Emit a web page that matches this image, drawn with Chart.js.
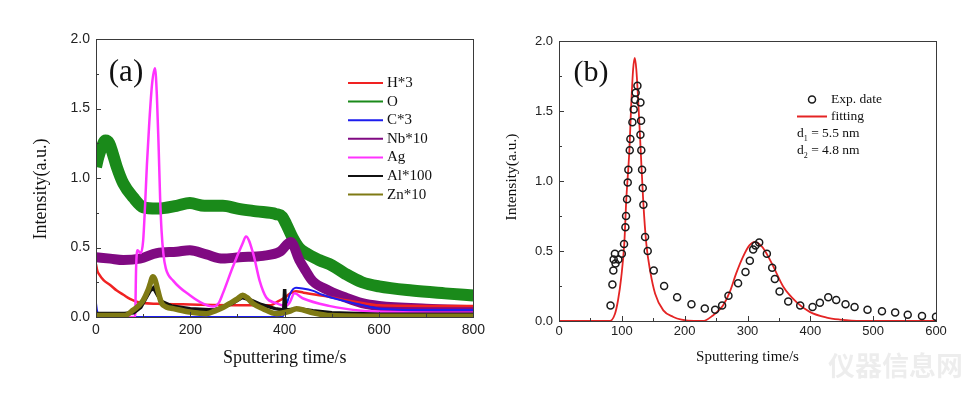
<!DOCTYPE html>
<html>
<head>
<meta charset="utf-8">
<script src="https://cdn.jsdelivr.net/npm/chart.js@4.4.1/dist/chart.umd.min.js"></script>
<style>
  body { margin: 0; background: #fff; }
  #wrap { position: relative; width: 979px; height: 407px; }
  canvas { position: absolute; top: 0; }
  #chartA { left: 0; }
  #chartB { left: 490px; }
</style>
</head>
<body>
<div id="wrap">
  <canvas id="chartA" width="490" height="407"></canvas>
  <canvas id="chartB" width="489" height="407"></canvas>
</div>
<script>
// ---- panel (a): depth profiles ----
const timeH = [0, 3, 6, 16, 30, 44, 58, 72, 86, 100, 130, 200, 300, 370, 385, 400, 412, 424, 440, 494, 530, 564, 600, 700, 800];
const intH  = [0.38, 0.33, 0.31, 0.265, 0.23, 0.19, 0.16, 0.13, 0.11, 0.10, 0.095, 0.09, 0.085, 0.085, 0.11, 0.14, 0.17, 0.185, 0.175, 0.145, 0.12, 0.10, 0.084, 0.08, 0.08];

const timeO = [0, 5, 12, 20, 28, 36, 44, 58, 79, 100, 129, 171, 199, 230, 269, 300, 340, 382, 395, 403, 417, 430, 445, 473, 501, 529, 564, 600, 670, 740, 800];
const intO  = [1.08, 1.15, 1.22, 1.27, 1.25, 1.17, 1.08, 0.96, 0.86, 0.79, 0.78, 0.80, 0.82, 0.80, 0.80, 0.78, 0.76, 0.74, 0.72, 0.67, 0.57, 0.50, 0.46, 0.41, 0.37, 0.31, 0.25, 0.22, 0.19, 0.17, 0.155];

const timeC = [0, 2, 5, 10, 395, 403, 412, 424, 438, 459, 480, 520, 560, 600, 700, 800];
const intC  = [0.1, 0.05, 0.01, 0, 0, 0.08, 0.17, 0.21, 0.205, 0.19, 0.16, 0.12, 0.09, 0.06, 0.05, 0.05];

const timeNb = [0, 30, 58, 93, 129, 171, 199, 234, 269, 304, 354, 390, 413, 431, 445, 459, 494, 529, 564, 600, 700, 800];
const intNb  = [0.43, 0.42, 0.41, 0.42, 0.46, 0.47, 0.48, 0.45, 0.42, 0.43, 0.44, 0.47, 0.54, 0.41, 0.33, 0.26, 0.19, 0.14, 0.10, 0.08, 0.06, 0.05];

const timeAg = [0, 83, 85, 88, 95, 100, 104, 108, 113, 119, 125, 129, 133, 136, 139, 143, 148, 164, 199, 227, 248, 260, 269, 290, 311, 318, 333, 347, 361, 382, 403, 410, 421, 438, 494, 564, 650, 800];
const intAg  = [0, 0, 0.35, 0.48, 0.46, 0.55, 0.8, 1.1, 1.4, 1.68, 1.79, 1.6, 1.2, 0.85, 0.62, 0.45, 0.35, 0.26, 0.156, 0.096, 0.075, 0.1, 0.17, 0.36, 0.53, 0.58, 0.46, 0.26, 0.14, 0.1, 0.08, 0.1, 0.17, 0.135, 0.08, 0.045, 0.035, 0.03];

const timeAl = [0, 60, 80, 95, 105, 115, 122, 130, 140, 160, 200, 250, 270, 290, 310, 330, 350, 380, 398, 400, 402, 430, 460, 500, 600, 800];
const intAl  = [0.025, 0.025, 0.03, 0.07, 0.13, 0.19, 0.21, 0.16, 0.11, 0.08, 0.06, 0.05, 0.07, 0.1, 0.14, 0.12, 0.09, 0.06, 0.05, 0.2, 0.05, 0.06, 0.045, 0.03, 0.02, 0.02];

const timeZn = [0, 60, 79, 90, 100, 110, 115, 120, 125, 129, 135, 139, 150, 164, 199, 234, 255, 270, 283, 300, 311, 320, 333, 354, 382, 410, 425, 440, 460, 500, 600, 800];
const intZn  = [0.01, 0.01, 0.05, 0.08, 0.12, 0.19, 0.24, 0.29, 0.27, 0.22, 0.14, 0.1, 0.07, 0.06, 0.036, 0.024, 0.048, 0.07, 0.096, 0.13, 0.156, 0.14, 0.096, 0.06, 0.024, 0.04, 0.06, 0.05, 0.03, 0.01, 0.005, 0.005];

// ---- panel (b): Ag profile and fit ----
const expTime = [82, 85, 86.5, 87, 89, 90, 94.5, 100, 103.5, 105.7, 106.7, 108.3, 109.4, 110.4, 112.6, 113.6, 116.8, 118.9, 121, 122, 124.8, 129.6, 129.6, 130.6, 131, 132.2, 133.3, 134.3, 137, 141.2, 150.8, 167.3, 188, 210.8, 232, 248.5, 259.6, 269.7, 285, 296.8, 303.7, 309, 312.7, 318.6, 330.8, 339.3, 343.5, 351, 364.8, 383.9, 403.5, 415.2, 428.5, 441.2, 456, 470.4, 491, 514, 535, 555, 577.7, 600];
const expInt  = [0.11, 0.26, 0.36, 0.44, 0.48, 0.41, 0.44, 0.48, 0.55, 0.67, 0.75, 0.87, 0.99, 1.08, 1.22, 1.30, 1.42, 1.51, 1.58, 1.63, 1.68, 1.56, 1.33, 1.43, 1.22, 1.08, 0.95, 0.83, 0.60, 0.50, 0.36, 0.25, 0.17, 0.12, 0.09, 0.08, 0.11, 0.18, 0.27, 0.35, 0.43, 0.51, 0.54, 0.56, 0.48, 0.38, 0.30, 0.21, 0.14, 0.11, 0.10, 0.13, 0.17, 0.15, 0.12, 0.10, 0.08, 0.07, 0.06, 0.045, 0.036, 0.03];

const fitTime = [0, 81, 89, 94, 99, 104, 107, 112, 115, 118, 120.6, 123, 126, 130, 134, 139, 145, 153, 166, 182, 195, 215, 229, 245, 255, 261, 272, 282, 293, 303, 312, 320, 328, 341, 357, 378, 399, 426, 447, 480, 600];
const fitInt  = [0, 0, 0.05, 0.15, 0.31, 0.56, 0.86, 1.22, 1.55, 1.8, 1.88, 1.8, 1.58, 1.22, 0.86, 0.55, 0.36, 0.195, 0.076, 0.029, 0.01, 0, 0, 0.04, 0.08, 0.11, 0.21, 0.34, 0.46, 0.54, 0.565, 0.545, 0.5, 0.39, 0.245, 0.135, 0.065, 0.024, 0.01, 0, 0];

const yTicksA = [0, 0.5, 1.0, 1.5, 2.0];

function pairs(xs, ys) {
  return xs.map((t, i) => ({ x: t, y: ys[i] }));
}

Chart.defaults.font.family = '"Liberation Sans", Arial, sans-serif';
Chart.defaults.color = '#222';

function profile(label, xs, ys, color, width, order, smooth) {
  return {
    label: label,
    data: pairs(xs, ys),
    borderColor: color,
    backgroundColor: color,
    borderWidth: width,
    pointRadius: 0,
    order: order,
    clip: 0,
    cubicInterpolationMode: smooth ? 'monotone' : 'default',
    tension: 0
  };
}

// frame, inward ticks, panel letter, legend and y title
const decor = {
  id: 'decor',
  afterDatasetsDraw(chart, args, o) {
    const { ctx, chartArea: a, scales: { x, y } } = chart;
    ctx.save();
    ctx.strokeStyle = '#3a3a3a';
    ctx.lineWidth = 1;
    ctx.strokeRect(Math.round(a.left) + 0.5, Math.round(a.top) + 0.5,
                   Math.round(a.right - a.left), Math.round(a.bottom - a.top));
    ctx.beginPath();
    let n = 0;
    for (let v = x.min; v <= x.max + 1e-6; v += o.xMinor, n++) {
      const px = Math.round(x.getPixelForValue(v)) + 0.5;
      ctx.moveTo(px, a.bottom);
      ctx.lineTo(px, a.bottom - (n % 2 === 0 ? 5 : 3));
    }
    n = 0;
    for (let v = y.min; v <= y.max + 1e-6; v += 0.25, n++) {
      const py = Math.round(y.getPixelForValue(v)) + 0.5;
      ctx.moveTo(a.left, py);
      ctx.lineTo(a.left + (n % 2 === 0 ? 5 : 3), py);
    }
    ctx.stroke();
    ctx.restore();
  },
  afterDraw(chart, args, o) {
    const ctx = chart.ctx;
    ctx.save();
    ctx.fillStyle = '#111';
    ctx.textAlign = 'center';
    ctx.textBaseline = 'middle';
    ctx.font = o.letterSize + 'px "Liberation Serif", "Times New Roman", serif';
    ctx.fillText(o.letter, o.letterX, o.letterY);

    // y axis title
    ctx.save();
    ctx.translate(o.yTitleX, o.yTitleY);
    ctx.rotate(-Math.PI / 2);
    ctx.font = o.yTitleSize + 'px "Liberation Serif", "Times New Roman", serif';
    ctx.fillText('Intensity(a.u.)', 0, 0);
    ctx.restore();

    // legend
    ctx.font = o.legendSize + 'px "Liberation Serif", "Times New Roman", serif';
    ctx.textAlign = 'left';
    o.legend.forEach((e, i) => {
      const yy = o.legendY + i * o.legendStep;
      if (e.kind === 'line') {
        ctx.strokeStyle = e.color;
        ctx.lineWidth = 2;
        ctx.beginPath();
        ctx.moveTo(o.legendX, yy);
        ctx.lineTo(o.legendX + o.legendLen, yy);
        ctx.stroke();
      } else if (e.kind === 'circle') {
        ctx.strokeStyle = e.color;
        ctx.lineWidth = 1.5;
        ctx.beginPath();
        ctx.arc(o.legendX + o.legendLen / 2, yy, 3.5, 0, Math.PI * 2);
        ctx.stroke();
      }
      if (e.kind === 'sub') {
        let xx = o.legendX;
        ctx.fillText(e.base, xx, yy);
        xx += ctx.measureText(e.base).width;
        const big = ctx.font;
        ctx.font = Math.round(o.legendSize * 0.6) + 'px "Liberation Serif", serif';
        ctx.fillText(e.sub, xx, yy + 5);
        xx += ctx.measureText(e.sub).width;
        ctx.font = big;
        ctx.fillText(e.rest, xx, yy);
      } else {
        ctx.fillText(e.text, o.legendX + o.legendLen + 4, yy);
      }
    });

    if (o.watermark) {
      ctx.font = 'bold 27px "Noto Sans CJK SC", sans-serif';
      ctx.fillStyle = 'rgba(0,0,0,0.07)';
      ctx.fillText(o.watermark, 338, 366);
    }
    ctx.restore();
  }
};

const serif = '"Liberation Serif", "Times New Roman", serif';

// ---------- chart (a) ----------
new Chart(document.getElementById('chartA').getContext('2d'), {
  type: 'line',
  data: {
    datasets: [
      profile('H*3', timeH, intH, '#f02222', 2.5, 4, true),
      profile('O', timeO, intO, '#1a8a1a', 12, 6, true),
      profile('C*3', timeC, intC, '#1c1cee', 2, 3, true),
      profile('Nb*10', timeNb, intNb, '#800a82', 10, 5, true),
      profile('Ag', timeAg, intAg, '#ff33ff', 2.5, 2, true),
      profile('Al*100', timeAl, intAl, '#111111', 3.5, 1, false),
      profile('Zn*10', timeZn, intZn, '#7f7a14', 5.5, 0, true)
    ]
  },
  options: {
    responsive: false,
    animation: false,
    layout: { padding: { left: 0, right: 15, top: 39, bottom: 0 } },
    plugins: {
      legend: { display: false },
      tooltip: { enabled: false },
      decor: {
        letter: '(a)', letterX: 126, letterY: 73, letterSize: 31,
        yTitleX: 41, yTitleY: 189, yTitleSize: 18,
        legendX: 348, legendY: 83, legendStep: 18.6, legendLen: 35, legendSize: 15,
        xMinor: 100,
        legend: [
          { kind: 'line', color: '#f02222', text: 'H*3' },
          { kind: 'line', color: '#1a8a1a', text: 'O' },
          { kind: 'line', color: '#1c1cee', text: 'C*3' },
          { kind: 'line', color: '#800a82', text: 'Nb*10' },
          { kind: 'line', color: '#ff33ff', text: 'Ag' },
          { kind: 'line', color: '#111111', text: 'Al*100' },
          { kind: 'line', color: '#7f7a14', text: 'Zn*10' }
        ]
      }
    },
    scales: {
      x: {
        type: 'linear', min: 0, max: 800,
        afterFit: s => { s.height = 90; },
        grid: { display: false, drawTicks: false },
        border: { display: false },
        ticks: { stepSize: 200, padding: 5, font: { size: 14 }, maxRotation: 0 },
        title: { display: true, text: 'Sputtering time/s', font: { family: serif, size: 18 }, color: '#111', padding: { top: 0, bottom: 38 } }
      },
      y: {
        type: 'linear', min: 0, max: 2,
        afterFit: s => { s.width = 96; },
        afterBuildTicks: s => { s.ticks = yTicksA.map(v => ({ value: v })); },
        grid: { display: false, drawTicks: false },
        border: { display: false },
        ticks: { padding: 6, font: { size: 14 }, callback: v => v.toFixed(1) }
      }
    }
  },
  plugins: [decor]
});

// ---------- chart (b) ----------
new Chart(document.getElementById('chartB').getContext('2d'), {
  type: 'line',
  data: {
    datasets: [
      {
        label: 'Exp. date',
        data: pairs(expTime, expInt),
        showLine: false,
        pointRadius: 3.5,
        pointBorderWidth: 1.5,
        pointBorderColor: '#1a1a1a',
        pointBackgroundColor: 'rgba(0,0,0,0)',
        order: 0
      },
      Object.assign(profile('fitting', fitTime, fitInt, '#e42424', 1.8, 1, true))
    ]
  },
  options: {
    responsive: false,
    animation: false,
    layout: { padding: { left: 0, right: 43, top: 41, bottom: 0 } },
    plugins: {
      legend: { display: false },
      tooltip: { enabled: false },
      decor: {
        letter: '(b)', letterX: 101, letterY: 73, letterSize: 30,
        yTitleX: 22, yTitleY: 177, yTitleSize: 15.5,
        legendX: 307, legendY: 99.5, legendStep: 17, legendLen: 30, legendSize: 13.5,
        xMinor: 50,
        watermark: '仪器信息网',
        legend: [
          { kind: 'circle', color: '#1a1a1a', text: 'Exp. date' },
          { kind: 'line', color: '#e42424', text: 'fitting' },
          { kind: 'sub', base: 'd', sub: '1', rest: ' = 5.5 nm' },
          { kind: 'sub', base: 'd', sub: '2', rest: ' = 4.8 nm' }
        ]
      }
    },
    scales: {
      x: {
        type: 'linear', min: 0, max: 600,
        afterFit: s => { s.height = 86; },
        grid: { display: false, drawTicks: false },
        border: { display: false },
        ticks: { stepSize: 100, padding: 3, font: { size: 13 }, maxRotation: 0 },
        title: { display: true, text: 'Sputtering time/s', font: { family: serif, size: 15 }, color: '#111', padding: { top: 0, bottom: 41 } }
      },
      y: {
        type: 'linear', min: 0, max: 2,
        afterFit: s => { s.width = 69; },
        afterBuildTicks: s => { s.ticks = yTicksA.map(v => ({ value: v })); },
        grid: { display: false, drawTicks: false },
        border: { display: false },
        ticks: { padding: 6, font: { size: 13 }, callback: v => v.toFixed(1) }
      }
    }
  },
  plugins: [decor]
});
</script>
</body>
</html>
